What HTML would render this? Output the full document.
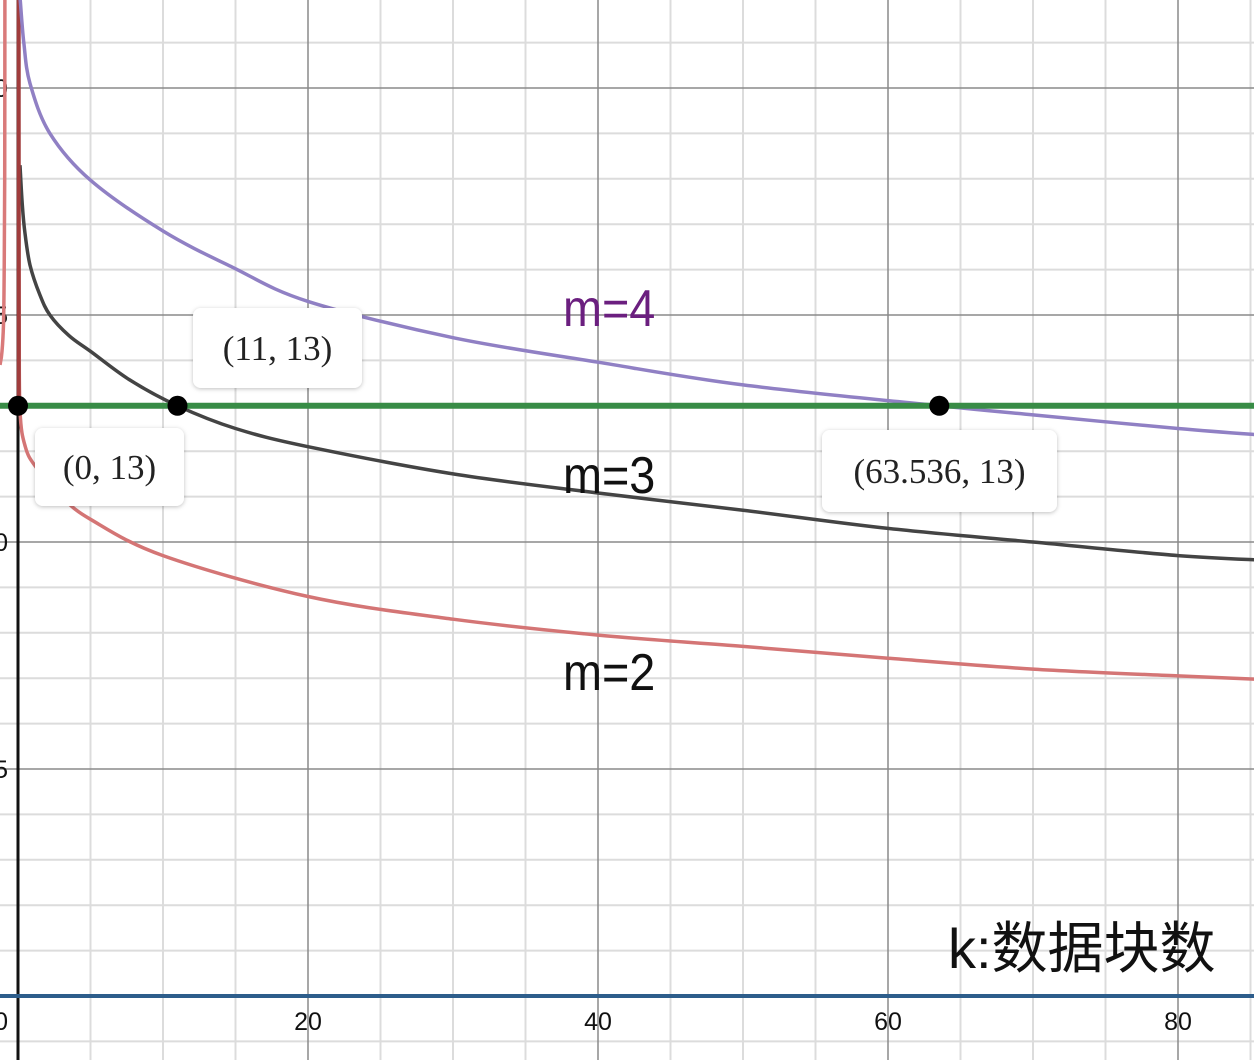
<!DOCTYPE html>
<html><head><meta charset="utf-8"><style>
body{margin:0;background:#fff}
svg{display:block}
.lbl{font-family:"Liberation Sans","Noto Sans CJK SC",sans-serif}
.pt{font-family:"Liberation Serif",serif;font-size:35px;fill:#222}
</style></head><body>
<svg id="chart" width="1254" height="1060" xmlns="http://www.w3.org/2000/svg">
<defs><filter id="sh" x="-20%" y="-20%" width="140%" height="150%"><feDropShadow dx="0" dy="1" stdDeviation="2" flood-color="#000" flood-opacity="0.25"/></filter></defs>
<g id="grid"></g>
<g id="series"></g>
<g id="ann"></g>
</svg>
<script>
const xTicks=[0,20,40,60,80];
const xTickLabels=["0","20","40","60","80"];
const yTicks=[5,10,15,20];
const yTickLabels=["5","10","15","20"];
const m3X=[0.14,0.3,0.48,0.83,1.5,2.2,3.5,5,7.7,11,15,20,30,40,50,60,70,80,86];
const m3Y=[18.3,17.4,16.8,16.1,15.45,15.0,14.55,14.2,13.57,13,12.5,12.1,11.5,11.08,10.7,10.3,10.0,9.7,9.6];
const m4X=[0.14,0.4,0.83,2.2,5,10,14.8,20,30,40,50,63.536,70,80,86];
const m4Y=[22,21,20.1,19.0,17.97,16.85,16.05,15.3,14.5,13.96,13.46,13,12.8,12.5,12.35];
const m2X=[0.04,0.08,0.14,0.5,1.24,3,5,10,20,30,40,50,60,70,80,86];
const m2Y=[22,15,12.9,12.1,11.65,11.0,10.5,9.7,8.8,8.3,7.95,7.7,7.44,7.2,7.05,6.97];
const m2LeftX=[-0.9,-0.92,-0.95,-1.0,-1.1,-1.24];
const m2LeftY=[22,18,16,14.8,14.2,13.9];
const hLineY=13;
const ptsX=[0,11,63.536];
const ptsY=[13,13,13];
const ptLabels=["(0, 13)","(11, 13)","(63.536, 13)"];

const X=v=>18+v*14.5, Y=v=>996-v*45.4;
const NS="http://www.w3.org/2000/svg";
function mk(tag,attrs,parent){const e=document.createElementNS(NS,tag);for(const k in attrs)e.setAttribute(k,attrs[k]);parent.appendChild(e);return e;}
const grid=document.getElementById('grid'),ser=document.getElementById('series'),ann=document.getElementById('ann');
for(let v=-5;v<=90;v+=5){if(v%20===0)continue;const l=mk('line',{x1:X(v),x2:X(v),y1:0,y2:1060,stroke:'#dcdcdc','stroke-width':2},grid);

}
for(let v=-2;v<=23;v++){if(v%5===0)continue;const l=mk('line',{x1:0,x2:1254,y1:Y(v),y2:Y(v),stroke:'#dcdcdc','stroke-width':2},grid);

}
xTicks.forEach((v,i)=>{if(v!==0){const l=mk('line',{x1:X(v),x2:X(v),y1:0,y2:1060,stroke:'#8a8a8a','stroke-width':1.5},grid);

}
const t=mk('text',{x:v===0?8:X(v),y:1030,'text-anchor':v===0?'end':'middle','font-size':25,class:'lbl',fill:'#111'},grid);t.textContent=xTickLabels[i];

});
yTicks.forEach((v,i)=>{const l=mk('line',{x1:0,x2:1254,y1:Y(v),y2:Y(v),stroke:'#8a8a8a','stroke-width':1.5},grid);


const t=mk('text',{x:8,y:Y(v)+9,'text-anchor':'end','font-size':25,class:'lbl',fill:'#111'},grid);t.textContent=yTickLabels[i];

});
const ya=mk('line',{x1:X(0),x2:X(0),y1:0,y2:1060,stroke:'#111','stroke-width':3},grid);


const xa=mk('line',{x1:0,x2:1254,y1:Y(0),y2:Y(0),stroke:'#2d5d8b','stroke-width':4},grid);


function curve(xs,ys,color,name){
const P=xs.map((v,i)=>[X(v),Y(ys[i])]);
let d='M'+P[0][0].toFixed(1)+' '+P[0][1].toFixed(1);
for(let i=0;i<P.length-1;i++){const p0=P[Math.max(0,i-1)],p1=P[i],p2=P[i+1],p3=P[Math.min(P.length-1,i+2)];
const t=1/6;
const c1=[p1[0]+(p2[0]-p0[0])*t,p1[1]+(p2[1]-p0[1])*t];
const c2=[p2[0]-(p3[0]-p1[0])*t,p2[1]-(p3[1]-p1[1])*t];
d+=' C'+c1.map(n=>n.toFixed(1)).join(' ')+' '+c2.map(n=>n.toFixed(1)).join(' ')+' '+p2.map(n=>n.toFixed(1)).join(' ');}
const p=mk('path',{d:d,fill:'none',stroke:color,'stroke-width':3.5,'stroke-linejoin':'round'},ser);

}
curve(m2LeftX,m2LeftY,'#d97a7a','curve-m2-left');
curve(m2X,m2Y,'#d47575','curve-m2');
curve(m3X,m3Y,'#444','curve-m3');
const rv=mk('line',{x1:X(0.05),x2:X(0.05),y1:0,y2:Y(13.1),stroke:'#a03c3c','stroke-width':4},ser);


curve(m4X,m4Y,'#9080c4','curve-m4');
const hl=mk('line',{x1:0,x2:1254,y1:Y(hLineY),y2:Y(hLineY),stroke:'#388c46','stroke-width':6},ser);


const boxes=[[35,428,149,78],[193,308,169,80],[822,430,235,82]];
ptsX.forEach((v,i)=>{const c=mk('circle',{cx:X(v),cy:Y(ptsY[i]),r:10,fill:'#000'},ann);


const b=boxes[i];const r=mk('rect',{x:b[0],y:b[1],width:b[2],height:b[3],rx:8,fill:'#fff',filter:'url(#sh)'},ann);


const t=mk('text',{x:b[0]+b[2]/2,y:b[1]+b[3]/2+12,'text-anchor':'middle',class:'pt'},ann);t.textContent=ptLabels[i];

});
function lab(txt,x,y,color,size,sx,name){const t=mk('text',{x:x,y:y,'font-size':size,class:'lbl',fill:color,transform:'scale('+sx+',1)','transform-origin':x+' '+y},ann);t.textContent=txt;

}
lab('m=4',563,326,'#6b1f7f',52,0.9,'label-m4');
lab('m=3',563,493,'#111',52,0.9,'label-m3');
lab('m=2',563,690,'#111',52,0.9,'label-m2');
lab('k:数据块数',948,968,'#111',56,1.0,'x-axis-title');
</script>
</body></html>
